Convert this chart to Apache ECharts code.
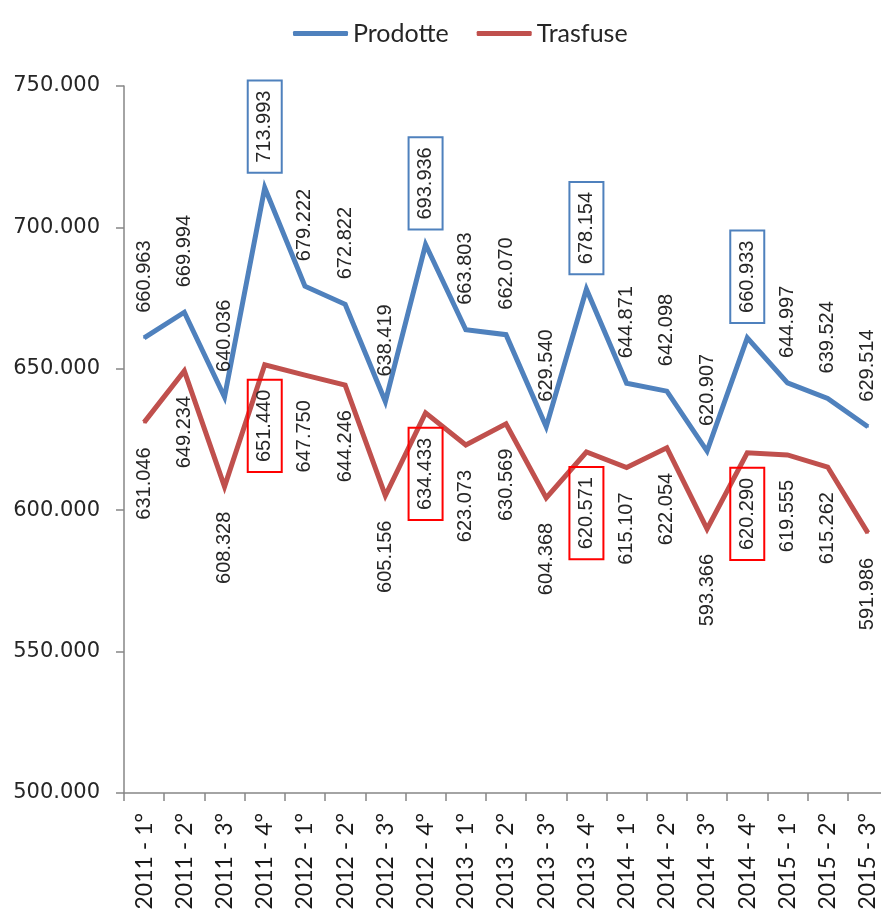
<!DOCTYPE html>
<html>
<head>
<meta charset="utf-8">
<script src="https://cdn.jsdelivr.net/npm/echarts@6/dist/echarts.min.js"></script>
<style>html,body{margin:0;padding:0;background:#fff;overflow:hidden;}#c{width:888px;height:916px;}</style>
</head>
<body>
<div id="c"></div>
<script>
const categories = ["2011 - 1°","2011 - 2°","2011 - 3°","2011 - 4°","2012 - 1°","2012 - 2°","2012 - 3°","2012 - 4°","2013 - 1°","2013 - 2°","2013 - 3°","2013 - 4°","2014 - 1°","2014 - 2°","2014 - 3°","2014 - 4°","2015 - 1°","2015 - 2°","2015 - 3°"];
const prodotte = [660963,669994,640036,713993,679222,672822,638419,693936,663803,662070,629540,678154,644871,642098,620907,660933,644997,639524,629514];
const trasfuse = [631046,649234,608328,651440,647750,644246,605156,634433,623073,630569,604368,620571,615107,622054,593366,620290,619555,615262,591986];
const yTicks = [500000,550000,600000,650000,700000,750000];

function fmt(v){ return String(v).replace(/\B(?=(\d{3})+(?!\d))/g, '.'); }

const BLUE = '#4F81BD', RED = '#C0504D';

function seriesLabel(top){
  return {
    show:true, rotate:90, position: top ? 'top' : 'bottom',
    align: top ? 'left' : 'right', verticalAlign:'middle', distance:24,
    fontFamily:'Liberation Sans', fontSize:20, color:'#262626',
    formatter: p => fmt(p.value)
  };
}
function buildData(values, boxColor){
  return values.map((v,i)=>{
    if (categories[i].endsWith('4°')){
      return {value:v, label:{distance:14, borderColor:boxColor, borderWidth:2, padding:[7,10], lineHeight:20}};
    }
    return v;
  });
}

const chart = echarts.init(document.getElementById('c'));
chart.setOption({
  animation:false,
  legend:{
    left:288, top:16, itemWidth:55, itemHeight:5, itemGap:28, icon:'roundRect',
    textStyle:{fontFamily:'Lato', fontSize:25, color:'#262626'},
    data:['Prodotte','Trasfuse']
  },
  grid:{left:124, right:0, top:86, bottom:123, containLabel:false},
  xAxis:{
    type:'category', data:categories, boundaryGap:true,
    axisLine:{lineStyle:{color:'#868686', width:1.5}},
    axisTick:{show:true, length:8, lineStyle:{color:'#868686', width:1.5}},
    axisLabel:{rotate:90, margin:20, interval:0, fontFamily:'Lato', fontSize:23, color:'#1a1a1a'},
    splitLine:{show:false}
  },
  yAxis:{
    type:'value', min:yTicks[0], max:yTicks[yTicks.length-1], interval:yTicks[1]-yTicks[0],
    axisLine:{show:true, lineStyle:{color:'#868686', width:1.5}},
    axisTick:{show:true, length:8, lineStyle:{color:'#868686', width:1.5}},
    axisLabel:{margin:24, fontFamily:'DejaVu Sans', fontSize:21, color:'#262626', formatter: v => fmt(v)},
    splitLine:{show:false}
  },
  series:[
    {name:'Prodotte', type:'line', data:buildData(prodotte, BLUE), symbol:'circle', symbolSize:2, showSymbol:true,
     label:seriesLabel(true), itemStyle:{color:BLUE}, color:BLUE, lineStyle:{color:BLUE, width:5, join:'miter'}},
    {name:'Trasfuse', type:'line', data:buildData(trasfuse, '#FF0000'), symbol:'circle', symbolSize:2, showSymbol:true,
     label:seriesLabel(false), itemStyle:{color:RED}, color:RED, lineStyle:{color:RED, width:5, join:'miter'}}
  ]
});
</script>
</body>
</html>
